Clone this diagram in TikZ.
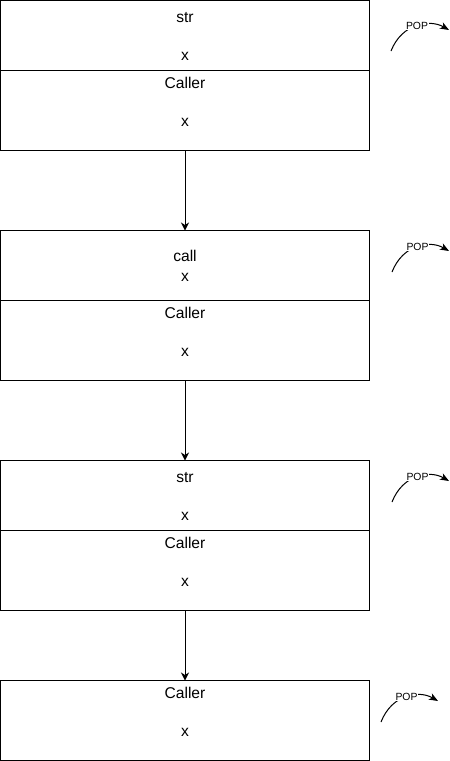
\documentclass[tikz,border=0pt]{standalone}
\usepackage{fontspec}
\setmainfont{Liberation Sans}
\usetikzlibrary{positioning,arrows.meta}

\begin{document}
\begin{tikzpicture}[x=1pt, y=-1pt
    , cell/.style={draw, line width=1pt, minimum width=369pt, minimum height=#1, inner sep=0pt, outer sep=0pt}
    , txt/.style={anchor=base, inner sep=0pt, font=\fontsize{15.6}{18.7}\selectfont}
    , push/.style={-{Stealth[length=8pt, width=8pt, inset=2.5pt]}, line width=1pt}
    , pop/.style={-{Stealth[length=9pt, width=7pt, inset=2.5pt]}, line width=1pt}
    , poplabel/.style={fill=white, inner sep=0.8pt, font=\fontsize{10.4}{12}\selectfont}
    ]
    \useasboundingbox (0,0) rectangle (450,761);

    % frames
    \node[cell=70pt, anchor=north west] (str1) at (0.5,0.5) {};
    \node[cell=80pt, below=0pt of str1] (caller1) {};
    \node[cell=70pt, below=80pt of caller1] (call2) {};
    \node[cell=80pt, below=0pt of call2] (caller2) {};
    \node[cell=70pt, below=80pt of caller2] (str3) {};
    \node[cell=80pt, below=0pt of str3] (caller3) {};
    \node[cell=80pt, below=70pt of caller3] (caller4) {};

    % texts
    \node[txt] (str1a) at ([yshift=-22pt]str1.north) {str};
    \node[txt] (str1b) at ([yshift=-60pt]str1.north) {x};
    \node[txt] (caller1a) at ([yshift=-17.5pt]caller1.north) {Caller};
    \node[txt] (caller1b) at ([yshift=-56pt]caller1.north) {x};
    \node[txt] (call2a) at ([yshift=-30.5pt]call2.north) {call};
    \node[txt] (call2b) at ([yshift=-51pt]call2.north) {x};
    \node[txt] (caller2a) at ([yshift=-17.5pt]caller2.north) {Caller};
    \node[txt] (caller2b) at ([yshift=-56pt]caller2.north) {x};
    \node[txt] (str3a) at ([yshift=-22pt]str3.north) {str};
    \node[txt] (str3b) at ([yshift=-60pt]str3.north) {x};
    \node[txt] (caller3a) at ([yshift=-17.5pt]caller3.north) {Caller};
    \node[txt] (caller3b) at ([yshift=-56pt]caller3.north) {x};
    \node[txt] (caller4a) at ([yshift=-17.5pt]caller4.north) {Caller};
    \node[txt] (caller4b) at ([yshift=-56pt]caller4.north) {x};

    % calls
    \draw[push] (caller1) -- (call2);
    \draw[push] (caller2) -- (str3);
    \draw[push] (caller3) -- (caller4);

    % pops
    \coordinate (pop1s) at (391,51);
    \coordinate (pop1e) at (449,30);
    \coordinate (pop2s) at (392,272);
    \coordinate (pop2e) at (449,251);
    \coordinate (pop3s) at (392,502);
    \coordinate (pop3e) at (449,481);
    \coordinate (pop4s) at (381,722);
    \coordinate (pop4e) at (438,701);
    \draw[pop] (pop1s) .. controls (402,23) and (430,19) .. (pop1e) node[poplabel, pos=0.5] (pop1) {POP};
    \draw[pop] (pop2s) .. controls (403,244) and (430,240) .. (pop2e) node[poplabel, pos=0.5] (pop2) {POP};
    \draw[pop] (pop3s) .. controls (403,474) and (430,470) .. (pop3e) node[poplabel, pos=0.5] (pop3) {POP};
    \draw[pop] (pop4s) .. controls (392,694) and (419,690) .. (pop4e) node[poplabel, pos=0.5] (pop4) {POP};
\end{tikzpicture}
\end{document}
